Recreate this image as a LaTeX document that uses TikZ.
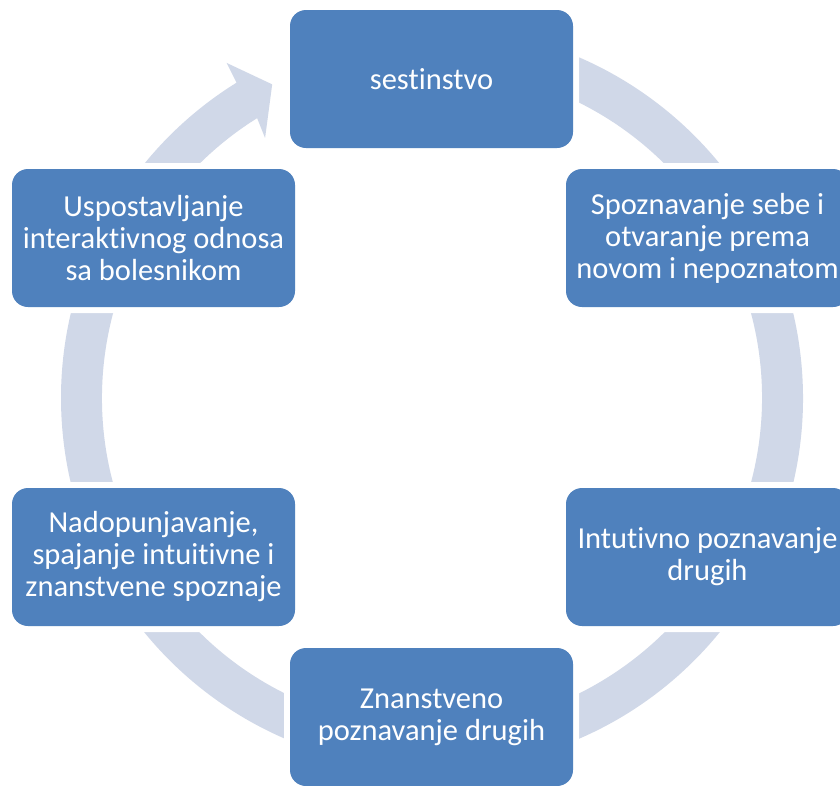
\documentclass[tikz,border=0pt]{standalone}
\usepackage{fontspec}
\setmainfont[Ligatures={NoCommon,NoRare}]{Carlito}
\definecolor{boxblue}{HTML}{4F81BD}
\definecolor{ringc}{HTML}{D0D8E8}
\tikzset{
  cyclebox/.style={rectangle, rounded corners=16pt, minimum width=283pt, minimum height=138pt,
    fill=boxblue, text=white, align=center, inner sep=2pt,
    font=\fontsize{30.5}{32}\selectfont,
    preaction={draw=white, line width=12pt}}
}
\begin{document}
\begin{tikzpicture}[x=1pt,y=1pt]
\useasboundingbox (0,0) rectangle (840,-785);
\fill[white] (0,0) rectangle (840,-785);
% ring with arrow head
\begin{scope}[shift={(432,-398)}]
\fill[ringc] (95:371) arc[start angle=95, end angle=-238.2, radius=371]
  -- (-238.5:393) -- (-243:352) -- (-237.3:309) -- (-238:330)
  arc[start angle=-238, end angle=95, radius=330] -- cycle;
\end{scope}
\node[cyclebox] (top) at (431.5,-79) {sestinstvo};
\node[cyclebox] (rtop) at (707.5,-238) {Spoznavanje sebe i\\otvaranje prema\\novom i nepoznatom};
\node[cyclebox] (rbot) at (707.5,-557) {Intutivno poznavanje\\drugih};
\node[cyclebox] (bot) at (431.5,-717) {Znanstveno\\poznavanje drugih};
\node[cyclebox] (lbot) at (153.5,-557) {Nadopunjavanje,\\spajanje intuitivne i\\znanstvene spoznaje};
\node[cyclebox] (ltop) at (153.5,-238) {Uspostavljanje\\interaktivnog odnosa\\sa bolesnikom};
\end{tikzpicture}
\end{document}
